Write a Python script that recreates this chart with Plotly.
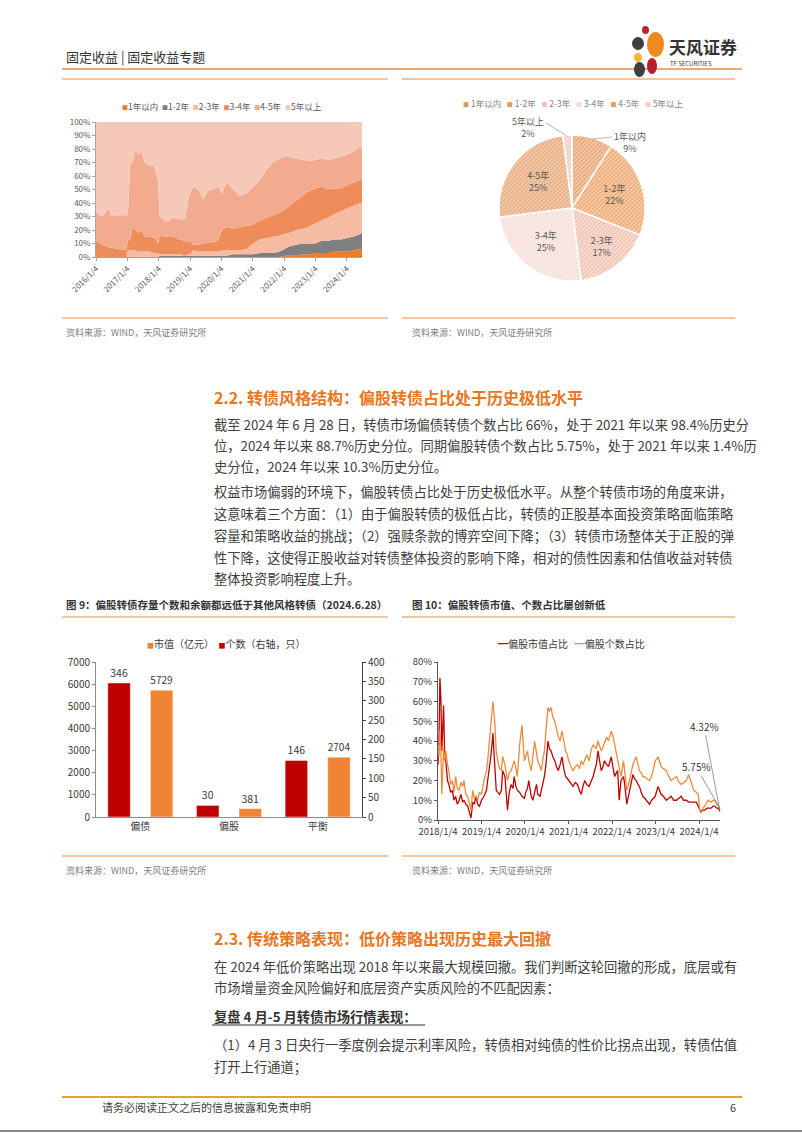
import plotly.graph_objects as go

W, H = 802, 1133
def X(p): return p / W
def Y(p): return 1 - p / H

FONT = "Noto Sans CJK SC"

# ---------------- Chart 1 data: remaining-term structure (stacked %) -------------
dates1 = ["2016-01-04","2016-03-15","2016-06-10","2016-06-25","2016-09-15","2016-12-20",
          "2017-01-10","2017-02-05","2017-03-15","2017-04-01","2017-05-10","2017-06-15",
          "2017-07-25","2017-09-20","2017-11-15","2017-12-28","2018-01-15","2018-04-01",
          "2018-06-20","2018-09-05","2018-11-05","2018-12-15","2019-01-08","2019-02-08",
          "2019-04-10","2019-06-05","2019-08-01","2019-09-28","2019-11-25","2020-01-10",
          "2020-03-05","2020-05-20","2020-08-05","2020-10-20","2021-01-08","2021-03-25",
          "2021-06-15","2021-08-30","2021-11-15","2022-01-05","2022-03-10","2022-05-28",
          "2022-08-15","2022-10-30","2023-01-05","2023-03-15","2023-05-30","2023-08-15",
          "2023-11-01","2024-01-05","2024-03-18","2024-06-05","2024-06-28"]
s_lt1 = [0,0,0,0,0,0, 0,0,0,0,0,0, 0,0,0,0,0,0, 0,0,0,0,0,0, 0,0,0,0,0,0,
         0,0,0,0,0,0, 0,0,0,1,1,1, 2,2,3,3,3,4, 4,4,5,6,6]
s_1_2 = [0,0,0,0,0,0, 0,0,0,0,0,0, 0,0,0,0,1,1, 1,1,1,1,1,1, 1,1,1,1,1,1,
         1,2,2,2,2,3, 3,3,4,5,7,8, 8,8,7,9,9,9, 9,10,10,11,12]
s_2_3 = [0,0,0,0,0,0, 5,5,5,5,4,4, 4,4,3,3,1,1, 1,1,0,1,1,4, 3,3,3,3,3,4,
         4,3,3,4,8,10, 11,12,12,11,10,11, 11,13,15,15,17,19, 21,22,23,23,22]
s_3_4 = [12,9,7,7,6,5, 7,8,19,15,14,16, 11,11,11,7,14,13, 13,11,11,9,10,4, 5,6,7,7,8,15,
         17,16,17,17,14,14, 15,16,17,18,20,22, 25,26,26,25,21,19, 17,17,17,17,17]
s_4_5 = [21,21,29,24,25,26, 20,55,48,60,58,58, 55,53,53,45,14,11, 14,15,16,31,36,43, 41,33,38,39,40,27,
         33,29,23,24,28,30, 36,39,40,39,36,31, 26,22,21,21,22,22, 23,23,23,25,24]
s_gt5 = [67,70,64,69,69,69, 68,32,28,20,24,22, 30,32,33,45,70,74, 71,72,72,58,52,48, 50,57,51,50,48,53,
         45,50,55,53,48,43, 35,30,27,26,26,27, 28,29,28,27,28,27, 26,24,22,18,19]
names1 = ["1年以内", "1-2年", "2-3年", "3-4年", "4-5年", "5年以上"]
ticks1 = ["2016-01-04","2017-01-04","2018-01-04","2019-01-04","2020-01-04",
          "2021-01-04","2022-01-04","2023-01-04","2024-01-04"]
ticklabels1 = ["2016/1/4","2017/1/4","2018/1/4","2019/1/4","2020/1/4",
               "2021/1/4","2022/1/4","2023/1/4","2024/1/4"]

# ---------------- Chart 2 data: pie ----------------
pie_labels = ["1年以内", "1-2年", "2-3年", "3-4年", "4-5年", "5年以上"]
pie_values = [9, 22, 17, 25, 25, 2]

# ---------------- Chart 3 data: bars ----------------
styles = ["偏债", "偏股", "平衡"]
count_vals = [346, 30, 146]        # 个数（右轴，只）
mv_vals = [5729, 381, 2704]        # 市值（亿元）

# ---------------- Chart 4 data: equity-like CB share ----------------
dates4 = ["2018-01-04","2018-01-12","2018-01-20","2018-01-28","2018-02-05","2018-02-12","2018-02-20",
 "2018-03-01","2018-03-10","2018-03-25","2018-04-05","2018-04-20","2018-05-05","2018-05-18","2018-06-01",
 "2018-06-15","2018-07-01","2018-07-15","2018-07-30","2018-08-10","2018-08-25","2018-09-10","2018-09-28",
 "2018-10-08","2018-10-22","2018-11-05","2018-11-18","2018-12-03","2018-12-18","2019-01-04","2019-01-25",
 "2019-02-15","2019-02-25","2019-03-10","2019-03-25","2019-04-05","2019-04-10","2019-04-25","2019-05-08",
 "2019-05-20","2019-06-05","2019-06-20","2019-07-01","2019-07-20","2019-08-10","2019-08-25","2019-09-10",
 "2019-09-25","2019-10-05","2019-10-20","2019-11-01","2019-11-20","2019-12-10","2019-12-30","2020-01-10",
 "2020-01-25","2020-02-05","2020-02-25","2020-03-10","2020-03-25","2020-04-10","2020-04-20","2020-05-10",
 "2020-05-20","2020-06-01","2020-06-15","2020-06-28","2020-07-08","2020-07-15","2020-07-28","2020-08-10",
 "2020-08-25","2020-09-10","2020-09-25","2020-10-10","2020-10-25","2020-11-10","2020-11-25","2020-12-10",
 "2020-12-25","2021-01-05","2021-01-25","2021-02-10","2021-03-01","2021-03-20","2021-04-05","2021-04-20",
 "2021-05-05","2021-05-20","2021-06-05","2021-06-25","2021-07-15","2021-07-30","2021-08-10","2021-08-25",
 "2021-09-08","2021-09-20","2021-10-05","2021-10-20","2021-11-01","2021-11-20","2021-12-05","2021-12-28",
 "2022-01-10","2022-01-25","2022-02-10","2022-02-20","2022-03-05","2022-03-20","2022-04-10","2022-04-20",
 "2022-05-08","2022-05-30","2022-06-15","2022-06-28","2022-07-10","2022-07-25","2022-08-10","2022-08-22",
 "2022-09-05","2022-09-20","2022-10-05","2022-10-20","2022-11-15","2022-12-01","2022-12-15","2023-01-01",
 "2023-01-25","2023-02-20","2023-03-10","2023-04-05","2023-04-25","2023-05-15","2023-06-05","2023-06-28",
 "2023-07-20","2023-08-08","2023-08-28","2023-09-20","2023-10-10","2023-10-30","2023-11-20","2023-12-12",
 "2023-12-28","2024-01-10","2024-01-20","2024-02-06","2024-02-20","2024-03-10","2024-03-20","2024-04-15",
 "2024-05-01","2024-05-15","2024-05-30","2024-06-15","2024-06-28"]
mv_share = [28,40,72,62,35,45,58, 32,30,20,18,14,15,10,12, 8,10,13,9,10,8,7,3, 1,9,8,12,8,7,10,12,
 15,20,25,33,40,44,28,15, 14,13,15,25,22,5,14,18, 16,22,17,15,14,12,11,14, 16,20,12,10,14,18,13,12,
 15,18,22,28,34,40,36,35, 32,30,27,25,28,32,26,22, 21,20,18,17,19,18,15,13, 17,20,18,17,20,22,25,28,
 35,30,25,27,30,28,27,32, 28,22,24,25,10,20,22,18, 8,15,20,23,21,20,18,17, 14,12,11,10,8,10,11,12,
 17,13,12,10,11,12,10,10, 11,12,10,10,9,9,9,9, 7,5,4,5,5,6,6,6, 7,7,6,6,4.32]
cnt_share = [38,32,45,36,13,30,36, 30,35,28,25,18,20,14,22, 16,15,19,17,20,13,12,8, 5,15,11,12,10,14,13,20,
 25,30,40,50,56,60,50,35, 30,26,25,32,28,20,24,25, 28,30,26,22,38,48,30,32, 35,30,25,32,40,34,30,27,
 25,30,35,45,55,57,55,57, 52,50,46,42,40,45,40,35, 33,30,27,25,27,28,26,30, 28,31,33,30,36,38,37,36,
 40,38,35,37,39,42,40,45, 43,38,33,30,26,22,30,25, 15,20,25,28,30,32,28,25, 24,22,22,21,20,22,25,30,
 32,27,26,25,22,20,21,22, 19,18,19,20,23,19,15,14, 13,5,4,6,7,9,10,9, 10,10,8,7,5.75]
ticks4 = ["2018-01-04","2019-01-04","2020-01-04","2021-01-04","2022-01-04","2023-01-04","2024-01-04"]
ticklabels4 = ["2018/1/4","2019/1/4","2020/1/4","2021/1/4","2022/1/4","2023/1/4","2024/1/4"]

# ---------------- styles ----------------
colors1 = ["#F07D2B", "#7F7F7F", "#F5BBA3", "#EF8C5C", "#F2AB8F", "#F6C8B8"]
pie_bg = ["#F3C8A8", "#F5CBA8", "#F8DCD2", "#FBECE8", "#F3C9A9", "#F8E1DB"]
pie_fg = ["#DE965F", "#EA9B58", "#EDB5A2", "#F4D6CE", "#E0A06E", "#EFC6BA"]
leg_col = ["#E0965E", "#EC9A55", "#F0C0B0", "#F6DCD5", "#E29E6A", "#F2CDC2"]
RED = "#C00000"
ORG = "#EE8434"
TXT = "#3A3A3A"
AX = "#595959"

fig = go.Figure()

# Chart 1: 100% stacked area
for nm, vals, col in zip(names1, [s_lt1, s_1_2, s_2_3, s_3_4, s_4_5, s_gt5], colors1):
    fig.add_trace(go.Scatter(x=dates1, y=vals, name=nm, stackgroup="term", groupnorm="percent",
                             mode="none", fillcolor=col, xaxis="x", yaxis="y",
                             showlegend=False, hoverinfo="skip"))

# Chart 2: pie
fig.add_trace(go.Pie(
    labels=pie_labels, values=pie_values, sort=False, direction="clockwise", rotation=0,
    domain=dict(x=[X(499), X(645)], y=[Y(281), Y(135)]),
    marker=dict(colors=pie_bg, line=dict(color="white", width=1.5),
                pattern=dict(shape="/", fgcolor=pie_fg, bgcolor=pie_bg,
                             size=3, solidity=0.3, fillmode="replace")),
    texttemplate=["", "%{label}<br>%{percent:.0%}", "%{label}<br>%{percent:.0%}",
                  "%{label}<br>%{percent:.0%}", "%{label}<br>%{percent:.0%}", ""],
    textposition="inside", insidetextorientation="horizontal",
    insidetextfont=dict(size=9, color="#595959", family=FONT),
    showlegend=False, hoverinfo="skip"))

# Chart 3: grouped bars with two y axes
fig.add_trace(go.Bar(x=styles, y=count_vals, name="个数（右轴，只）", marker_color=RED,
                     xaxis="x2", yaxis="y3", offsetgroup="1", text=count_vals,
                     textposition="outside", cliponaxis=False,
                     textfont=dict(size=10.5, color=TXT), showlegend=False))
fig.add_trace(go.Bar(x=styles, y=mv_vals, name="市值（亿元）", marker_color=ORG,
                     xaxis="x2", yaxis="y2", offsetgroup="2", text=mv_vals,
                     textposition="outside", cliponaxis=False,
                     textfont=dict(size=10.5, color=TXT), showlegend=False))

# Chart 4: lines
fig.add_trace(go.Scatter(x=dates4, y=mv_share, name="偏股市值占比", mode="lines",
                         line=dict(color=RED, width=1.3), xaxis="x3", yaxis="y4", showlegend=False))
fig.add_trace(go.Scatter(x=dates4, y=cnt_share, name="偏股个数占比", mode="lines",
                         line=dict(color="#F08A3A", width=1.3), xaxis="x3", yaxis="y4", showlegend=False))

tickf = dict(size=8, color=AX, family=FONT)
tickf2 = dict(size=10, color=TXT, family=FONT)
common = dict(showgrid=False, zeroline=False, automargin=False)

fig.update_layout(
    template="simple_white",
    width=W, height=H, margin=dict(l=0, r=0, t=0, b=0, pad=0, autoexpand=False),
    paper_bgcolor="white", plot_bgcolor="white", showlegend=False,
    font=dict(family=FONT, color=TXT),
    barmode="group", bargap=0.04, bargroupgap=0.47,
    xaxis=dict(domain=[X(96), X(362)], anchor="y", type="date",
               range=["2016-01-04", "2024-06-28"], tickvals=ticks1, ticktext=ticklabels1,
               tickangle=-45, tickfont=tickf, showline=True, linecolor="#A6A6A6",
               ticks="outside", ticklen=3, tickcolor="#A6A6A6", **common),
    yaxis=dict(domain=[Y(257), Y(122)], anchor="x", range=[0, 100], dtick=10, ticksuffix="%",
               tickfont=tickf, showline=True, linecolor="#A6A6A6", ticks="outside", ticklen=3,
               tickcolor="#A6A6A6", **common),
    xaxis2=dict(domain=[X(96), X(362)], anchor="y2", type="category", tickfont=tickf2,
                showline=True, linecolor="#8C8C8C", ticks="", **common),
    yaxis2=dict(domain=[Y(817), Y(662)], anchor="x2", range=[0, 7000], dtick=1000,
                tickfont=tickf2, showline=True, linecolor="#8C8C8C", ticks="outside", ticklen=3,
                tickcolor="#8C8C8C", **common),
    yaxis3=dict(overlaying="y2", side="right", anchor="x2", range=[0, 400], dtick=50,
                tickfont=tickf2, showline=True, linecolor="#404040", ticks="outside", ticklen=3,
                tickcolor="#404040", **common),
    xaxis3=dict(domain=[X(438), X(720)], anchor="y4", type="date",
                range=["2018-01-04", "2024-06-28"], tickvals=ticks4, ticktext=ticklabels4,
                tickangle=0, tickfont=dict(size=9.5, color=TXT, family=FONT), showline=True,
                linecolor="#595959", ticks="outside", ticklen=3, tickcolor="#595959", **common),
    yaxis4=dict(domain=[Y(820), Y(662)], anchor="x3", range=[0, 80], dtick=10, ticksuffix="%",
                tickfont=dict(size=9.5, color=TXT, family=FONT), showline=True,
                linecolor="#595959", ticks="outside", ticklen=3, tickcolor="#595959", **common),
)

# --------- helpers for page furniture ---------
def hline(x0, x1, y, color, width=1.2):
    fig.add_shape(type="line", xref="paper", yref="paper", x0=X(x0), x1=X(x1), y0=Y(y), y1=Y(y),
                  line=dict(color=color, width=width), opacity=1)

def text(x, y, s, size, color=TXT, anchor="left", bold=False):
    if bold:
        s = "<b>" + s + "</b>"
    fig.add_annotation(xref="paper", yref="paper", x=X(x), y=Y(y), text=s, showarrow=False,
                       xanchor=anchor, yanchor="middle", font=dict(size=size, color=color, family=FONT))

def sq(c, size=7):
    return f"<span style='color:{c};font-size:{size}px'>■</span>"

NB = "\u00a0"

# header
text(64, 57, "固定收益 | 固定收益专题", 13, "#333333")
hline(62, 742, 69, "#EE8A3C", 1.6)
# logo
for (x0, y0, x1, y1, c) in [(642, 26, 649, 34, "#B8252C"), (647, 32, 664, 57, "#F08A1E"),
                            (632, 37, 644, 50, "#3F3F3F"), (634, 53, 642, 62, "#F5B52E"),
                            (634, 62, 645, 77, "#404040"), (647, 58, 657, 74, "#B5202B")]:
    fig.add_shape(type="circle", xref="paper", yref="paper", x0=X(x0), x1=X(x1), y0=Y(y0), y1=Y(y1),
                  fillcolor=c, line=dict(width=0), opacity=1)
text(667, 47, "天风证券", 17, "#333333", bold=True)
text(668, 63, "TF SECURITIES", 6, "#333333")

# top rules of upper charts
hline(62, 388, 79, "#F4B183", 1.5)
hline(402, 735, 79, "#F4B183", 1.5)

# chart 1 legend
leg1 = (NB * 2).join(sq(c, 6) + n for n, c in zip(names1, colors1))
text(222, 106, leg1, 8.5, "#595959", anchor="center")

# pie legend
leg2 = (NB * 3).join(sq(c, 6) + NB + n for n, c in zip(pie_labels, leg_col))
text(573, 103, leg2, 8.5, "#7F7F7F", anchor="center")

# pie outside labels
text(630, 142, "1年以内<br>9%", 9, "#595959", anchor="center")
fig.add_shape(type="line", xref="paper", yref="paper", x0=X(592), x1=X(612), y0=Y(139), y1=Y(137),
              line=dict(color="#A6A6A6", width=0.8), opacity=1)
text(528, 127, "5年以上<br>2%", 9, "#595959", anchor="center")
fig.add_shape(type="line", xref="paper", yref="paper", x0=X(546), x1=X(567), y0=Y(123), y1=Y(136),
              line=dict(color="#A6A6A6", width=0.8), opacity=1)

# sources (upper)
hline(62, 388, 318, "#F4B183", 1.5)
hline(402, 735, 318, "#F4B183", 1.5)
text(64, 332, "资料来源：WIND，天风证券研究所", 9, "#808080")
text(410, 332, "资料来源：WIND，天风证券研究所", 9, "#808080")

# section 2.2
BODY = 13.3
text(212, 397, "2.2. 转债风格结构：偏股转债占比处于历史极低水平", 16, "#E8771F", bold=True)
para = [
    (424, "截至 2024 年 6 月 28 日，转债市场偏债转债个数占比 66%，处于 2021 年以来 98.4%历史分"),
    (445, "位，2024 年以来 88.7%历史分位。同期偏股转债个数占比 5.75%，处于 2021 年以来 1.4%历"),
    (466, "史分位，2024 年以来 10.3%历史分位。"),
    (492, "权益市场偏弱的环境下，偏股转债占比处于历史极低水平。从整个转债市场的角度来讲，"),
    (514, "这意味着三个方面：（1）由于偏股转债的极低占比，转债的正股基本面投资策略面临策略"),
    (535, "容量和策略收益的挑战；（2）强赎条款的博弈空间下降；（3）转债市场整体关于正股的弹"),
    (557, "性下降，这使得正股收益对转债整体投资的影响下降，相对的债性因素和估值收益对转债"),
    (578, "整体投资影响程度上升。"),
]
for y, s in para:
    text(212, y, s, BODY, "#404040")

# figure titles
text(64, 604, "图 9：偏股转债存量个数和余额都远低于其他风格转债（2024.6.28）", 10.5, "#333333", bold=True)
text(410, 604, "图 10：偏股转债市值、个数占比屡创新低", 10.5, "#333333", bold=True)
hline(62, 388, 617, "#F4B183", 1.5)
hline(402, 735, 617, "#F4B183", 1.5)

# chart 3 legend
text(226, 643, sq(ORG, 7) + "市值（亿元）" + NB * 2 + sq(RED, 7) + "个数（右轴，只）", 10, TXT, anchor="center")
# chart 4 legend
text(571, 643, f"<span style='color:{RED}'>━</span>偏股市值占比" + NB * 3 +
     "<span style='color:#F08A3A'>━</span>偏股个数占比", 10, TXT, anchor="center")

# chart 4 end labels
fig.add_annotation(xref="x3", yref="y4", x=dates4[-1], y=mv_share[-1], text="4.32%",
                   showarrow=True, arrowhead=0, arrowwidth=0.8, arrowcolor="#7F7F7F",
                   ax=-16, ay=-85, font=dict(size=10, color=TXT, family=FONT))
fig.add_annotation(xref="x3", yref="y4", x=dates4[-1], y=cnt_share[-1], text="5.75%",
                   showarrow=True, arrowhead=0, arrowwidth=0.8, arrowcolor="#7F7F7F",
                   ax=-24, ay=-42, font=dict(size=10, color=TXT, family=FONT))

# sources (lower)
hline(62, 388, 856, "#F4B183", 1.5)
hline(402, 735, 856, "#F4B183", 1.5)
text(64, 870, "资料来源：WIND，天风证券研究所", 9, "#808080")
text(410, 870, "资料来源：WIND，天风证券研究所", 9, "#808080")

# section 2.3
text(212, 938, "2.3. 传统策略表现：低价策略出现历史最大回撤", 16, "#E8771F", bold=True)
para2 = [
    (966, "在 2024 年低价策略出现 2018 年以来最大规模回撤。我们判断这轮回撤的形成，底层或有"),
    (987, "市场增量资金风险偏好和底层资产实质风险的不匹配因素："),
    (1044, "（1）4 月 3 日央行一季度例会提示利率风险，转债相对纯债的性价比拐点出现，转债估值"),
    (1066, "打开上行通道；"),
]
for y, s in para2:
    text(212, y, s, BODY, "#404040")
text(212, 1016, "复盘 4 月-5 月转债市场行情表现：", BODY, "#333333", bold=True)
hline(212, 425, 1025, "#333333", 1)

# footer
hline(62, 742, 1097, "#E8A030", 2)
text(100, 1107, "请务必阅读正文之后的信息披露和免责申明", 11, "#404040")
text(738, 1107, "6", 11, "#404040", anchor="right")
hline(0, 802, 1131, "#8C8C8C", 2)

fig.write_html("out.html")
